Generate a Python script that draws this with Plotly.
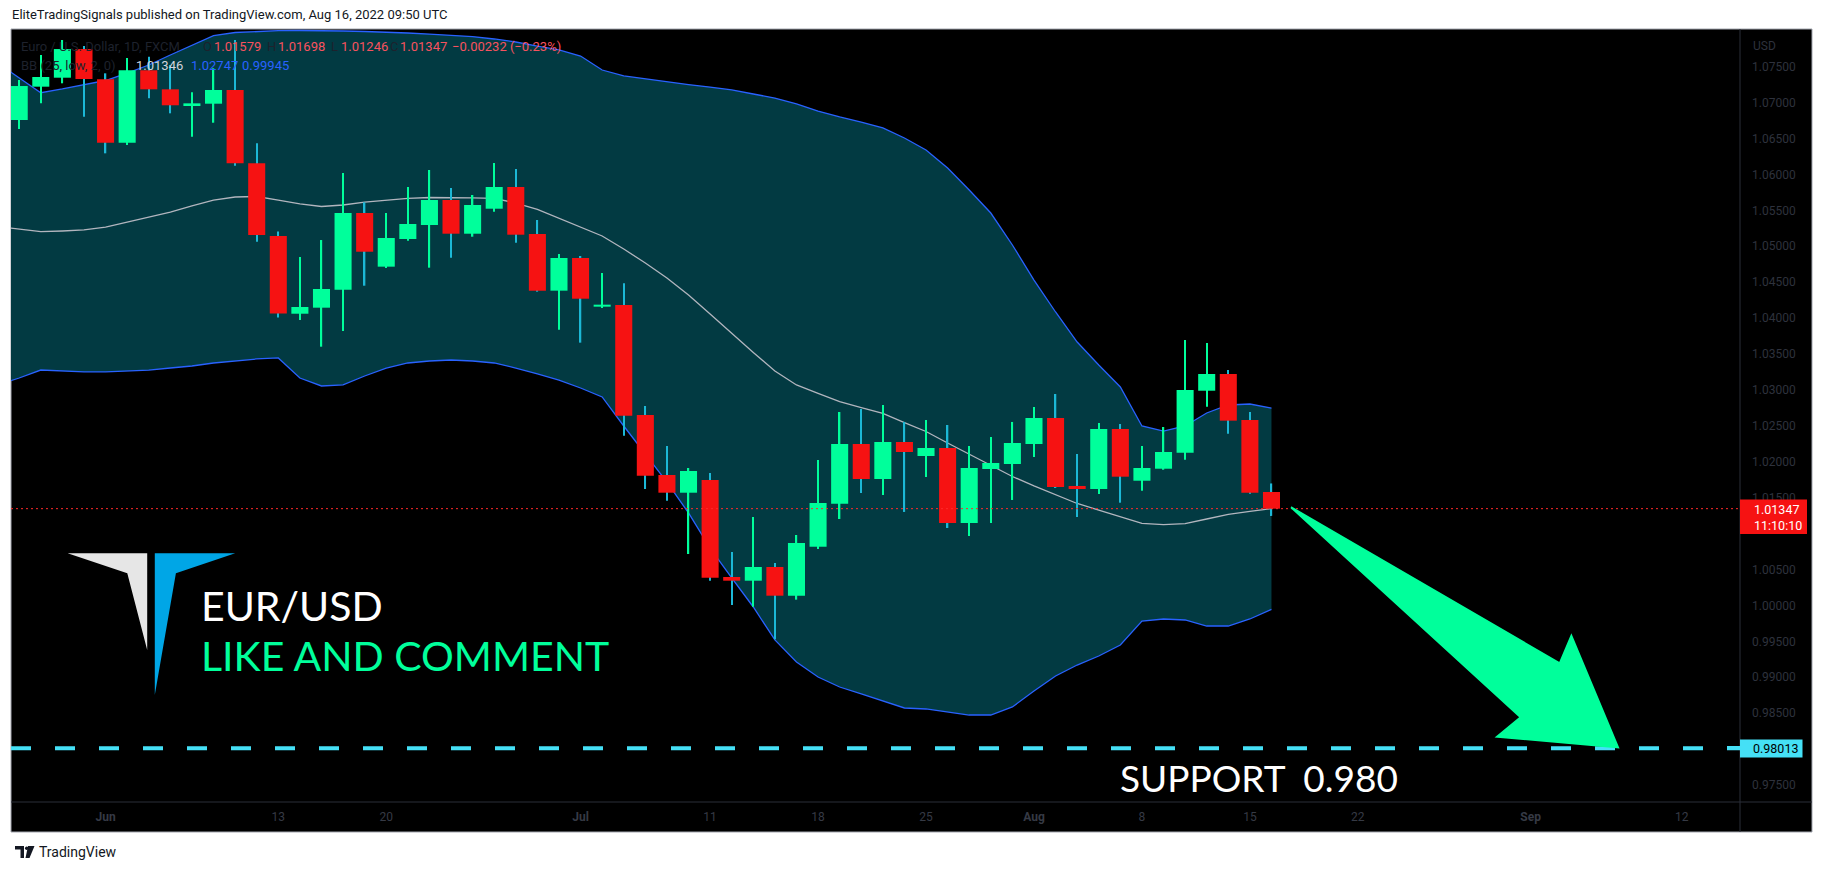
import plotly.graph_objects as go
import pandas as pd

# ---------------- data ----------------
candle_dates = pd.bdate_range("2022-05-26", "2022-08-16")
band_dates = pd.bdate_range("2022-05-25", "2022-08-16")

open_ = [1.06758, 1.07222, 1.07347, 1.07746, 1.07325, 1.06442, 1.07450, 1.07185, 1.06963, 1.06985,
         1.07176, 1.06155, 1.05143, 1.04061, 1.04145, 1.04395, 1.05463, 1.04716, 1.05101, 1.05296,
         1.05644, 1.05175, 1.05523, 1.05825, 1.05171, 1.04382, 1.04837, 1.04159, 1.04182, 1.02651,
         1.01816, 1.01569, 1.01746, 1.00396, 1.00344, 1.00535, 1.00135, 1.00817, 1.01416, 1.02247,
         1.01760, 1.02275, 1.02080, 1.02192, 1.01147, 1.01899, 1.01969, 1.02247, 1.02609, 1.01663,
         1.01621, 1.02456, 1.01736, 1.01903, 1.02126, 1.02989, 1.03222, 1.02581, 1.01579]
high = [1.07315, 1.07663, 1.07872, 1.07788, 1.07408, 1.07621, 1.07639, 1.07524, 1.07144, 1.07478,
        1.07872, 1.06434, 1.05206, 1.04851, 1.05087, 1.06020, 1.05612, 1.05463, 1.05825, 1.06062,
        1.05811, 1.05714, 1.06159, 1.06076, 1.05366, 1.04892, 1.04865, 1.04628, 1.04484, 1.02776,
        1.02219, 1.01913, 1.01844, 1.00744, 1.01231, 1.00590, 1.00980, 1.02025, 1.02693, 1.02735,
        1.02790, 1.02554, 1.02581, 1.02512, 1.02219, 1.02345, 1.02554, 1.02762, 1.02943, 1.02108,
        1.02540, 1.02526, 1.02219, 1.02484, 1.03695, 1.03653, 1.03277, 1.02693, 1.01698]
low = [1.06633, 1.06990, 1.07269, 1.06804, 1.06294, 1.06410, 1.07060, 1.06851, 1.06525, 1.06720,
       1.06122, 1.05064, 1.04008, 1.03974, 1.03602, 1.03820, 1.04451, 1.04698, 1.05078, 1.04702,
       1.04841, 1.05133, 1.05481, 1.05050, 1.04368, 1.03839, 1.03658, 1.04141, 1.02363, 1.01621,
       1.01458, 1.00716, 1.00344, 1.00006, 0.99982, 0.99528, 1.00080, 1.00785, 1.01203, 1.01565,
       1.01537, 1.01301, 1.01788, 1.01078, 1.00966, 1.01147, 1.01468, 1.02066, 1.01635, 1.01231,
       1.01551, 1.01430, 1.01597, 1.01889, 1.02029, 1.02767, 1.02391, 1.01555, 1.01246]
close = [1.07231, 1.07357, 1.07746, 1.07329, 1.06442, 1.07450, 1.07185, 1.06963, 1.06990, 1.07176,
         1.06155, 1.05157, 1.04064, 1.04155, 1.04405, 1.05463, 1.04924, 1.05115, 1.05310, 1.05644,
         1.05175, 1.05575, 1.05825, 1.05161, 1.04382, 1.04837, 1.04270, 1.04187, 1.02641, 1.01806,
         1.01569, 1.01871, 1.00386, 1.00344, 1.00535, 1.00135, 1.00869, 1.01426, 1.02247, 1.01760,
         1.02275, 1.02136, 1.02192, 1.01147, 1.01913, 1.01983, 1.02261, 1.02609, 1.01649, 1.01621,
         1.02456, 1.01792, 1.01913, 1.02136, 1.02999, 1.03222, 1.02572, 1.01569, 1.01347]

bb_upper = [1.07552, 1.07343, 1.07138, 1.07190, 1.07245, 1.07308, 1.07412, 1.07524, 1.07663, 1.07802,
            1.07934, 1.07976, 1.07993, 1.08001, 1.08004, 1.08004, 1.07997, 1.07990, 1.07983, 1.07969,
            1.07955, 1.07941, 1.07920, 1.07886, 1.07844, 1.07788, 1.07733, 1.07649, 1.07454, 1.07371,
            1.07329, 1.07287, 1.07252, 1.07217, 1.07176, 1.07120, 1.07064, 1.06981, 1.06883, 1.06800,
            1.06730, 1.06647, 1.06507, 1.06340, 1.06090, 1.05783, 1.05463, 1.05018, 1.04530, 1.04085,
            1.03667, 1.03347, 1.03041, 1.02498, 1.02428, 1.02498, 1.02679, 1.02790, 1.02804, 1.02747]
bb_mid = [1.05275, 1.05240, 1.05203, 1.05213, 1.05227, 1.05268, 1.05338, 1.05408, 1.05477, 1.05561,
          1.05644, 1.05686, 1.05693, 1.05644, 1.05589, 1.05554, 1.05575, 1.05616, 1.05644, 1.05668,
          1.05679, 1.05682, 1.05675, 1.05668, 1.05602, 1.05515, 1.05394, 1.05268, 1.05143, 1.04962,
          1.04767, 1.04558, 1.04322, 1.04057, 1.03787, 1.03521, 1.03264, 1.03069, 1.02953, 1.02836,
          1.02755, 1.02672, 1.02544, 1.02421, 1.02261, 1.02108, 1.01955, 1.01795, 1.01663, 1.01537,
          1.01419, 1.01328, 1.01231, 1.01143, 1.01124, 1.01140, 1.01203, 1.01266, 1.01308, 1.01346]
bb_lower = [1.03069, 1.03166, 1.03277, 1.03264, 1.03250, 1.03250, 1.03264, 1.03277, 1.03305, 1.03333,
            1.03375, 1.03403, 1.03431, 1.03445, 1.03166, 1.03055, 1.03069, 1.03194, 1.03305, 1.03375,
            1.03403, 1.03417, 1.03403, 1.03375, 1.03305, 1.03222, 1.03138, 1.03027, 1.02902, 1.02498,
            1.02108, 1.01718, 1.01287, 1.00799, 1.00382, 0.99978, 0.99519, 0.99212, 0.99003, 0.98864,
            0.98767, 0.98669, 0.98572, 0.98558, 0.98516, 0.98474, 0.98474, 0.98586, 0.98808, 0.99017,
            0.99170, 0.99296, 0.99449, 0.99783, 0.99811, 0.99797, 0.99713, 0.99713, 0.99811, 0.99945]

tick_dates = ["2022-06-01", "2022-06-13", "2022-06-20", "2022-07-01", "2022-07-11", "2022-07-18",
              "2022-07-25", "2022-08-01", "2022-08-08", "2022-08-15", "2022-08-22", "2022-09-01",
              "2022-09-12"]
tick_labels = ["<b>Jun</b>", "13", "20", "<b>Jul</b>", "11", "18", "25", "<b>Aug</b>", "8", "15",
               "22", "<b>Sep</b>", "12"]
# price scale labels (those hidden under the price boxes are left out)
price_ticks = [0.975, 0.985, 0.990, 0.995, 1.000, 1.005, 1.015, 1.020, 1.025, 1.030,
               1.035, 1.040, 1.045, 1.050, 1.055, 1.060, 1.065, 1.070, 1.075]

last_price = 1.01347
support = 0.98013
# arrow drawing: (bar index, price)
arrow_pts = [(54.91, 1.01366), (67.35, 0.99194), (67.89, 0.99578), (70.05, 0.98025),
             (64.45, 0.98172), (65.54, 0.98442)]

# ---------------- layout geometry ----------------
W, H = 1823, 872
LM, RM, TM, BM = 11, 83, 29, 70
PW, PH = W - LM - RM, H - TM - BM
X_RANGE = [-4.38, 75.70]
Y_RANGE = [0.97263, 1.08025]

def PX(x):
    return (x - LM) / PW

def PY(y):
    return (H - BM - y) / PH

all_days = pd.bdate_range("2022-05-20", "2022-09-30")
origin = all_days.get_loc(pd.Timestamp("2022-06-01"))

def bar_idx(d):
    return all_days.get_loc(pd.Timestamp(d)) - origin

cx = [bar_idx(d) for d in candle_dates]
bx = [bar_idx(d) for d in band_dates]
tx = [bar_idx(d) for d in tick_dates]

GREEN = "#00FF9B"
RED = "#F61212"
CYAN_WICK = "#1CB8D6"
BLUE = "#2962FF"
FILL = "#023A42"
DIM = "#2E323D"

is_up = [c >= o for o, c in zip(open_, close)]
body_base = [min(o, c) for o, c in zip(open_, close)]
body_h = [max(abs(c - o), 0.00012) for o, c in zip(open_, close)]
body_col = [GREEN if u else RED for u in is_up]
wick_col = [GREEN if u else CYAN_WICK for u in is_up]

fig = go.Figure()
fig.add_trace(go.Scatter(x=bx, y=bb_lower, mode="lines", line=dict(color=BLUE, width=1.3),
                         hoverinfo="skip", showlegend=False))
fig.add_trace(go.Scatter(x=bx, y=bb_upper, mode="lines", line=dict(color=BLUE, width=1.3),
                         fill="tonexty", fillcolor=FILL, hoverinfo="skip", showlegend=False))
fig.add_trace(go.Scatter(x=bx, y=bb_mid, mode="lines", line=dict(color="#B2B5BE", width=1.3),
                         hoverinfo="skip", showlegend=False))
fig.add_trace(go.Bar(x=cx, y=[h - l for h, l in zip(high, low)], base=low, width=0.065,
                     marker=dict(color=wick_col, line=dict(width=0)), yaxis="y2",
                     showlegend=False, hoverinfo="skip"))
fig.add_trace(go.Bar(x=cx, y=body_h, base=body_base, width=0.79,
                     marker=dict(color=body_col, line=dict(width=0)), yaxis="y2",
                     showlegend=False, hoverinfo="skip"))

shapes = []
# chart panel background & frame
shapes.append(dict(type="rect", xref="paper", yref="paper", x0=PX(11), x1=PX(1812),
                   y0=PY(832), y1=PY(29), fillcolor="#000000",
                   line=dict(color="#A3A6AF", width=1), layer="below"))
# axis separators
shapes.append(dict(type="line", xref="paper", yref="paper", x0=PX(11), x1=PX(1812),
                   y0=PY(802), y1=PY(802), line=dict(color="#2A2E39", width=1), layer="above"))
shapes.append(dict(type="line", xref="paper", yref="paper", x0=PX(1740), x1=PX(1740),
                   y0=PY(832), y1=PY(29), line=dict(color="#2A2E39", width=1), layer="above"))
# last price dotted line
shapes.append(dict(type="line", xref="paper", yref="y", x0=0, x1=1, y0=last_price, y1=last_price,
                   line=dict(color="#FF2A2A", width=1, dash="2px,3px"), layer="above"))
# support dashed line
shapes.append(dict(type="line", xref="paper", yref="y", x0=0, x1=PX(1740), y0=support, y1=support,
                   line=dict(color="#45E0F6", width=4, dash="20px,24px"), layer="above"))
# arrow
path = "M " + " L ".join(f"{x},{y}" for x, y in arrow_pts) + " Z"
shapes.append(dict(type="path", xref="x", yref="y", path=path, fillcolor=GREEN,
                   line=dict(color=GREEN, width=2), layer="above"))
# price boxes
shapes.append(dict(type="rect", xref="paper", yref="paper", x0=PX(1740), x1=PX(1807),
                   y0=PY(534), y1=PY(499.5), fillcolor=RED, line=dict(width=0), layer="above"))
shapes.append(dict(type="rect", xref="paper", yref="paper", x0=PX(1740), x1=PX(1802.5),
                   y0=PY(757.5), y1=PY(739.5), fillcolor="#45E0F6", line=dict(width=0), layer="above"))
shapes.append(dict(type="line", xref="paper", yref="paper", x0=PX(1727), x1=PX(1740),
                   y0=PY(748), y1=PY(748), line=dict(color="#45E0F6", width=4), layer="above"))

def poly(pts):
    return "M " + " L ".join(f"{PX(x)},{PY(y)}" for x, y in pts) + " Z"

# logo
shapes.append(dict(type="path", xref="paper", yref="paper",
                   path=poly([(67.6, 553.3), (147.2, 553.3), (147.2, 650), (127.3, 573.3)]),
                   fillcolor="#E6E6E6", line=dict(width=0), layer="above"))
shapes.append(dict(type="path", xref="paper", yref="paper",
                   path=poly([(154.8, 553.3), (235.2, 553.3), (175.9, 573.3), (154.8, 695)]),
                   fillcolor="#00A6E6", line=dict(width=0), layer="above"))
# TradingView footer logo
shapes.append(dict(type="path", xref="paper", yref="paper",
                   path=poly([(15, 846), (24, 846), (24, 858), (20.5, 858), (20.5, 849.5), (15, 849.5)]),
                   fillcolor="#131722", line=dict(width=0), layer="above"))
shapes.append(dict(type="path", xref="paper", yref="paper",
                   path=poly([(28, 846), (34.5, 846), (29.5, 858), (25.5, 858)]),
                   fillcolor="#131722", line=dict(width=0), layer="above"))
shapes.append(dict(type="circle", xref="paper", yref="paper", x0=PX(25), x1=PX(28.4),
                   y0=PY(850), y1=PY(846.6), fillcolor="#131722", line=dict(width=0), layer="above"))

annotations = []

def ann(text, x, y, size, color, family="Roboto", xanchor="left"):
    annotations.append(dict(text=text, x=PX(x), y=PY(y), xref="paper", yref="paper",
                            xanchor=xanchor, yanchor="middle", showarrow=False,
                            font=dict(size=size, color=color, family=family)))

ann("EliteTradingSignals published on TradingView.com, Aug 16, 2022 09:50 UTC", 10, 15, 13, "#131722")
ann("TradingView", 37, 852, 14, "#131722")
# legend line 1
LEG_RED = "#F7525F"
ann("Euro / U.S. Dollar, 1D, FXCM", 19, 47, 13, "#1E222D")
for lbl, lx, val, vx in [("O", 201, "1.01579", 212), ("H", 265, "1.01698", 276),
                         ("L", 329, "1.01246", 339), ("C", 388, "1.01347", 398)]:
    ann(lbl, lx, 47, 13, "#1E222D")
    ann(val, vx, 47, 13, LEG_RED)
ann("−0.00232 (−0.23%)", 450, 47, 13, LEG_RED)
# legend line 2
ann("BB (25, low, 2, 0)", 19, 66, 13, "#1E222D")
ann("1.01346", 134, 66, 13, "#D1D4DC")
ann("1.02747", 189, 66, 13, BLUE)
ann("0.99945", 240, 66, 13, BLUE)
# texts
ann("EUR/USD", 199, 605, 41, "#FFFFFF", family="Lato")
ann("LIKE AND COMMENT", 199, 655, 41, GREEN, family="Lato")
ann("SUPPORT\u00a0\u00a00.980", 1118, 777, 37, "#FFFFFF", family="Lato")
# axis extras
ann("USD", 1751, 46, 12, DIM)
ann("1.01347", 1752, 509, 12.5, "#FFFFFF")
ann("11:10:10", 1752, 525, 12.5, "#FFFFFF")
ann("0.98013", 1751, 748, 12.5, "#000000")

fig.update_layout(
    width=W, height=H,
    margin=dict(l=LM, r=RM, t=TM, b=BM, pad=0),
    paper_bgcolor="#FFFFFF", plot_bgcolor="#000000",
    barmode="overlay", showlegend=False,
    shapes=shapes, annotations=annotations,
    xaxis=dict(range=X_RANGE, tickmode="array", tickvals=tx, ticktext=tick_labels,
               showgrid=False, zeroline=False, showline=False, ticks="",
               tickfont=dict(family="Roboto", size=12, color="#363A45"),
               ticklabelstandoff=6, fixedrange=True),
    yaxis=dict(range=Y_RANGE, side="right", tickmode="array", tickvals=price_ticks,
               tickformat=".5f", showgrid=False, zeroline=False, showline=False, ticks="",
               tickfont=dict(family="Roboto", size=12, color=DIM),
               ticklabelstandoff=11, fixedrange=True),
    yaxis2=dict(range=Y_RANGE, overlaying="y", visible=False, fixedrange=True),
)

fig.write_html("out.html", config={"displayModeBar": False},
               post_script="document.body.style.margin='0';")
